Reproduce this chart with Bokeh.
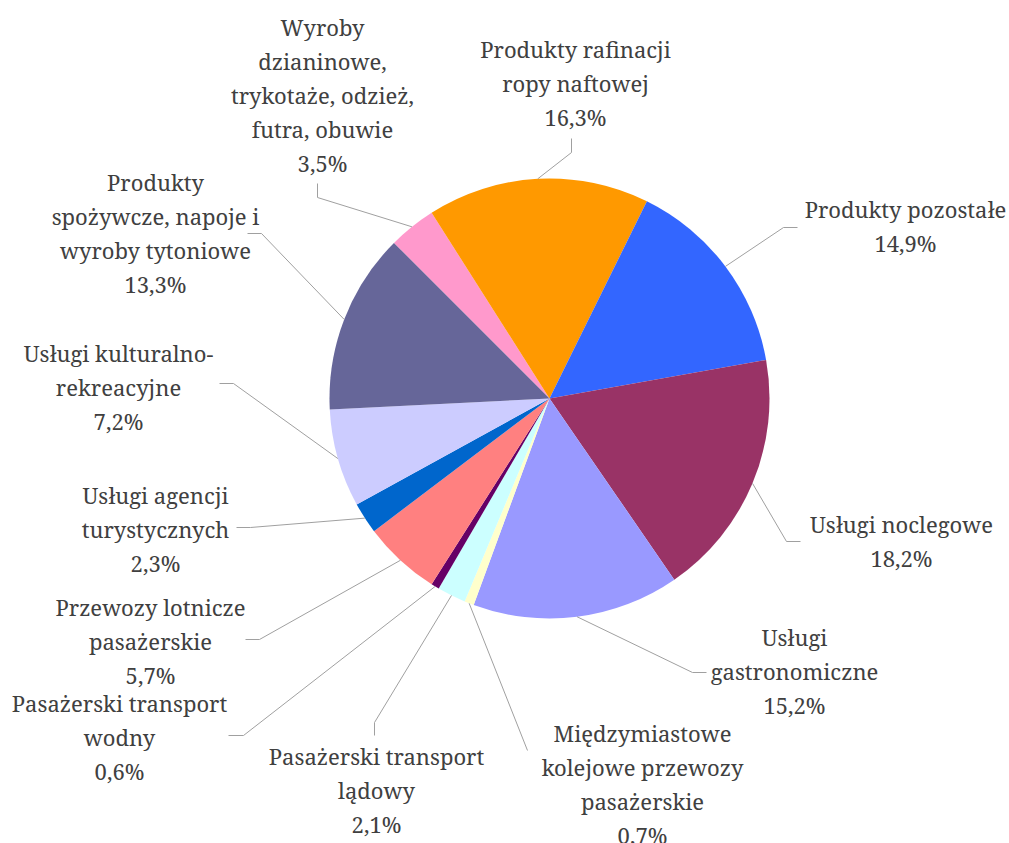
import math
from bokeh.plotting import figure
from bokeh.models import Range1d, ColumnDataSource
from bokeh.core.properties import value
from bokeh.embed import file_html
from bokeh.resources import INLINE

# ---------------- data ----------------
categories = [
    "Wyroby\ndzianinowe,\ntrykotaże, odzież,\nfutra, obuwie",
    "Produkty rafinacji\nropy naftowej",
    "Produkty pozostałe",
    "Usługi noclegowe",
    "Usługi\ngastronomiczne",
    "Międzymiastowe\nkolejowe przewozy\npasażerskie",
    "Pasażerski transport\nlądowy",
    "Pasażerski transport\nwodny",
    "Przewozy lotnicze\npasażerskie",
    "Usługi agencji\nturystycznych",
    "Usługi kulturalno-\nrekreacyjne",
    "Produkty\nspożywcze, napoje i\nwyroby tytoniowe",
]
shares = [3.5, 16.3, 14.9, 18.2, 15.2, 0.7, 2.1, 0.6, 5.7, 2.3, 7.2, 13.3]
colors = ["#FF99CC", "#FF9900", "#3366FF", "#993366", "#9999FF", "#FFFFCC",
          "#CCFFFF", "#660066", "#FF8080", "#0066CC", "#CCCCFF", "#666699"]

# ---------------- layout (page pixel coordinates) ----------------
W, H = 1009, 843
CX, CY, R = 549, 398, 220
START = -45.0
FONT = "Noto Serif"
FONT_PX = 22
LINE_STEP = 34
LABEL_SHIFT = -10
label_pos = [(322, 36), (575, 58), (905, 218), (901, 533), (794, 646),
             (642, 742), (376, 765), (119, 712), (150, 616), (155, 504),
             (118, 362), (155, 191)]
elbows = [[(317, 183), (317, 197)],
          [(571, 138), (571, 152)],
          [(797, 227), (783, 227)],
          [(800, 541), (786, 541)],
          [(706, 672), (692, 672)],
          [(527, 750)],
          [(374, 735), (374, 722)],
          [(228, 735), (243, 735)],
          [(245, 639), (259, 639)],
          [(236, 527), (250, 527)],
          [(219, 383), (233, 383)],
          [(247, 233), (261, 233)]]


def dx(x):
    return x


def dy(y):
    return H - y


p = figure(width=W, height=H, x_range=Range1d(0, W), y_range=Range1d(0, H),
           toolbar_location=None, output_backend="svg", min_border=0,
           x_axis_location=None, y_axis_location=None)
p.grid.visible = False
p.outline_line_color = None
p.background_fill_color = "white"

total = sum(shares)
starts, ends, mids = [], [], []
c = START
for s in shares:
    c0 = c
    c1 = c + s / total * 360.0
    starts.append(math.radians(90 - c1))
    ends.append(math.radians(90 - c0))
    mids.append((c0 + c1) / 2)
    c = c1

src = ColumnDataSource(dict(start=starts, end=ends, color=colors))
p.wedge(x=dx(CX), y=dy(CY), radius=R, start_angle="start", end_angle="end",
        fill_color="color", line_color=None, source=src)

for i, m in enumerate(mids):
    rx = CX + R * math.sin(math.radians(m))
    ry = CY - R * math.cos(math.radians(m))
    pts = elbows[i] + [(rx, ry)]
    p.line([dx(x) for x, _ in pts], [dy(y) for _, y in pts],
           line_color="#A0A0A0", line_width=1)

tx, ty, tt = [], [], []
for i, cat in enumerate(categories):
    lines = cat.split("\n") + [f"{shares[i]:.1f}".replace(".", ",") + "%"]
    x0, y0 = label_pos[i]
    for k, ln in enumerate(lines):
        tx.append(dx(x0))
        ty.append(dy(y0 + LABEL_SHIFT + k * LINE_STEP))
        tt.append(ln)

p.text(x=tx, y=ty, text=tt, text_align="center", text_baseline="alphabetic",
       text_font=value(FONT), text_font_size=f"{FONT_PX}px",
       text_color="#404040")

open("out.html", "w").write(file_html(p, INLINE))
